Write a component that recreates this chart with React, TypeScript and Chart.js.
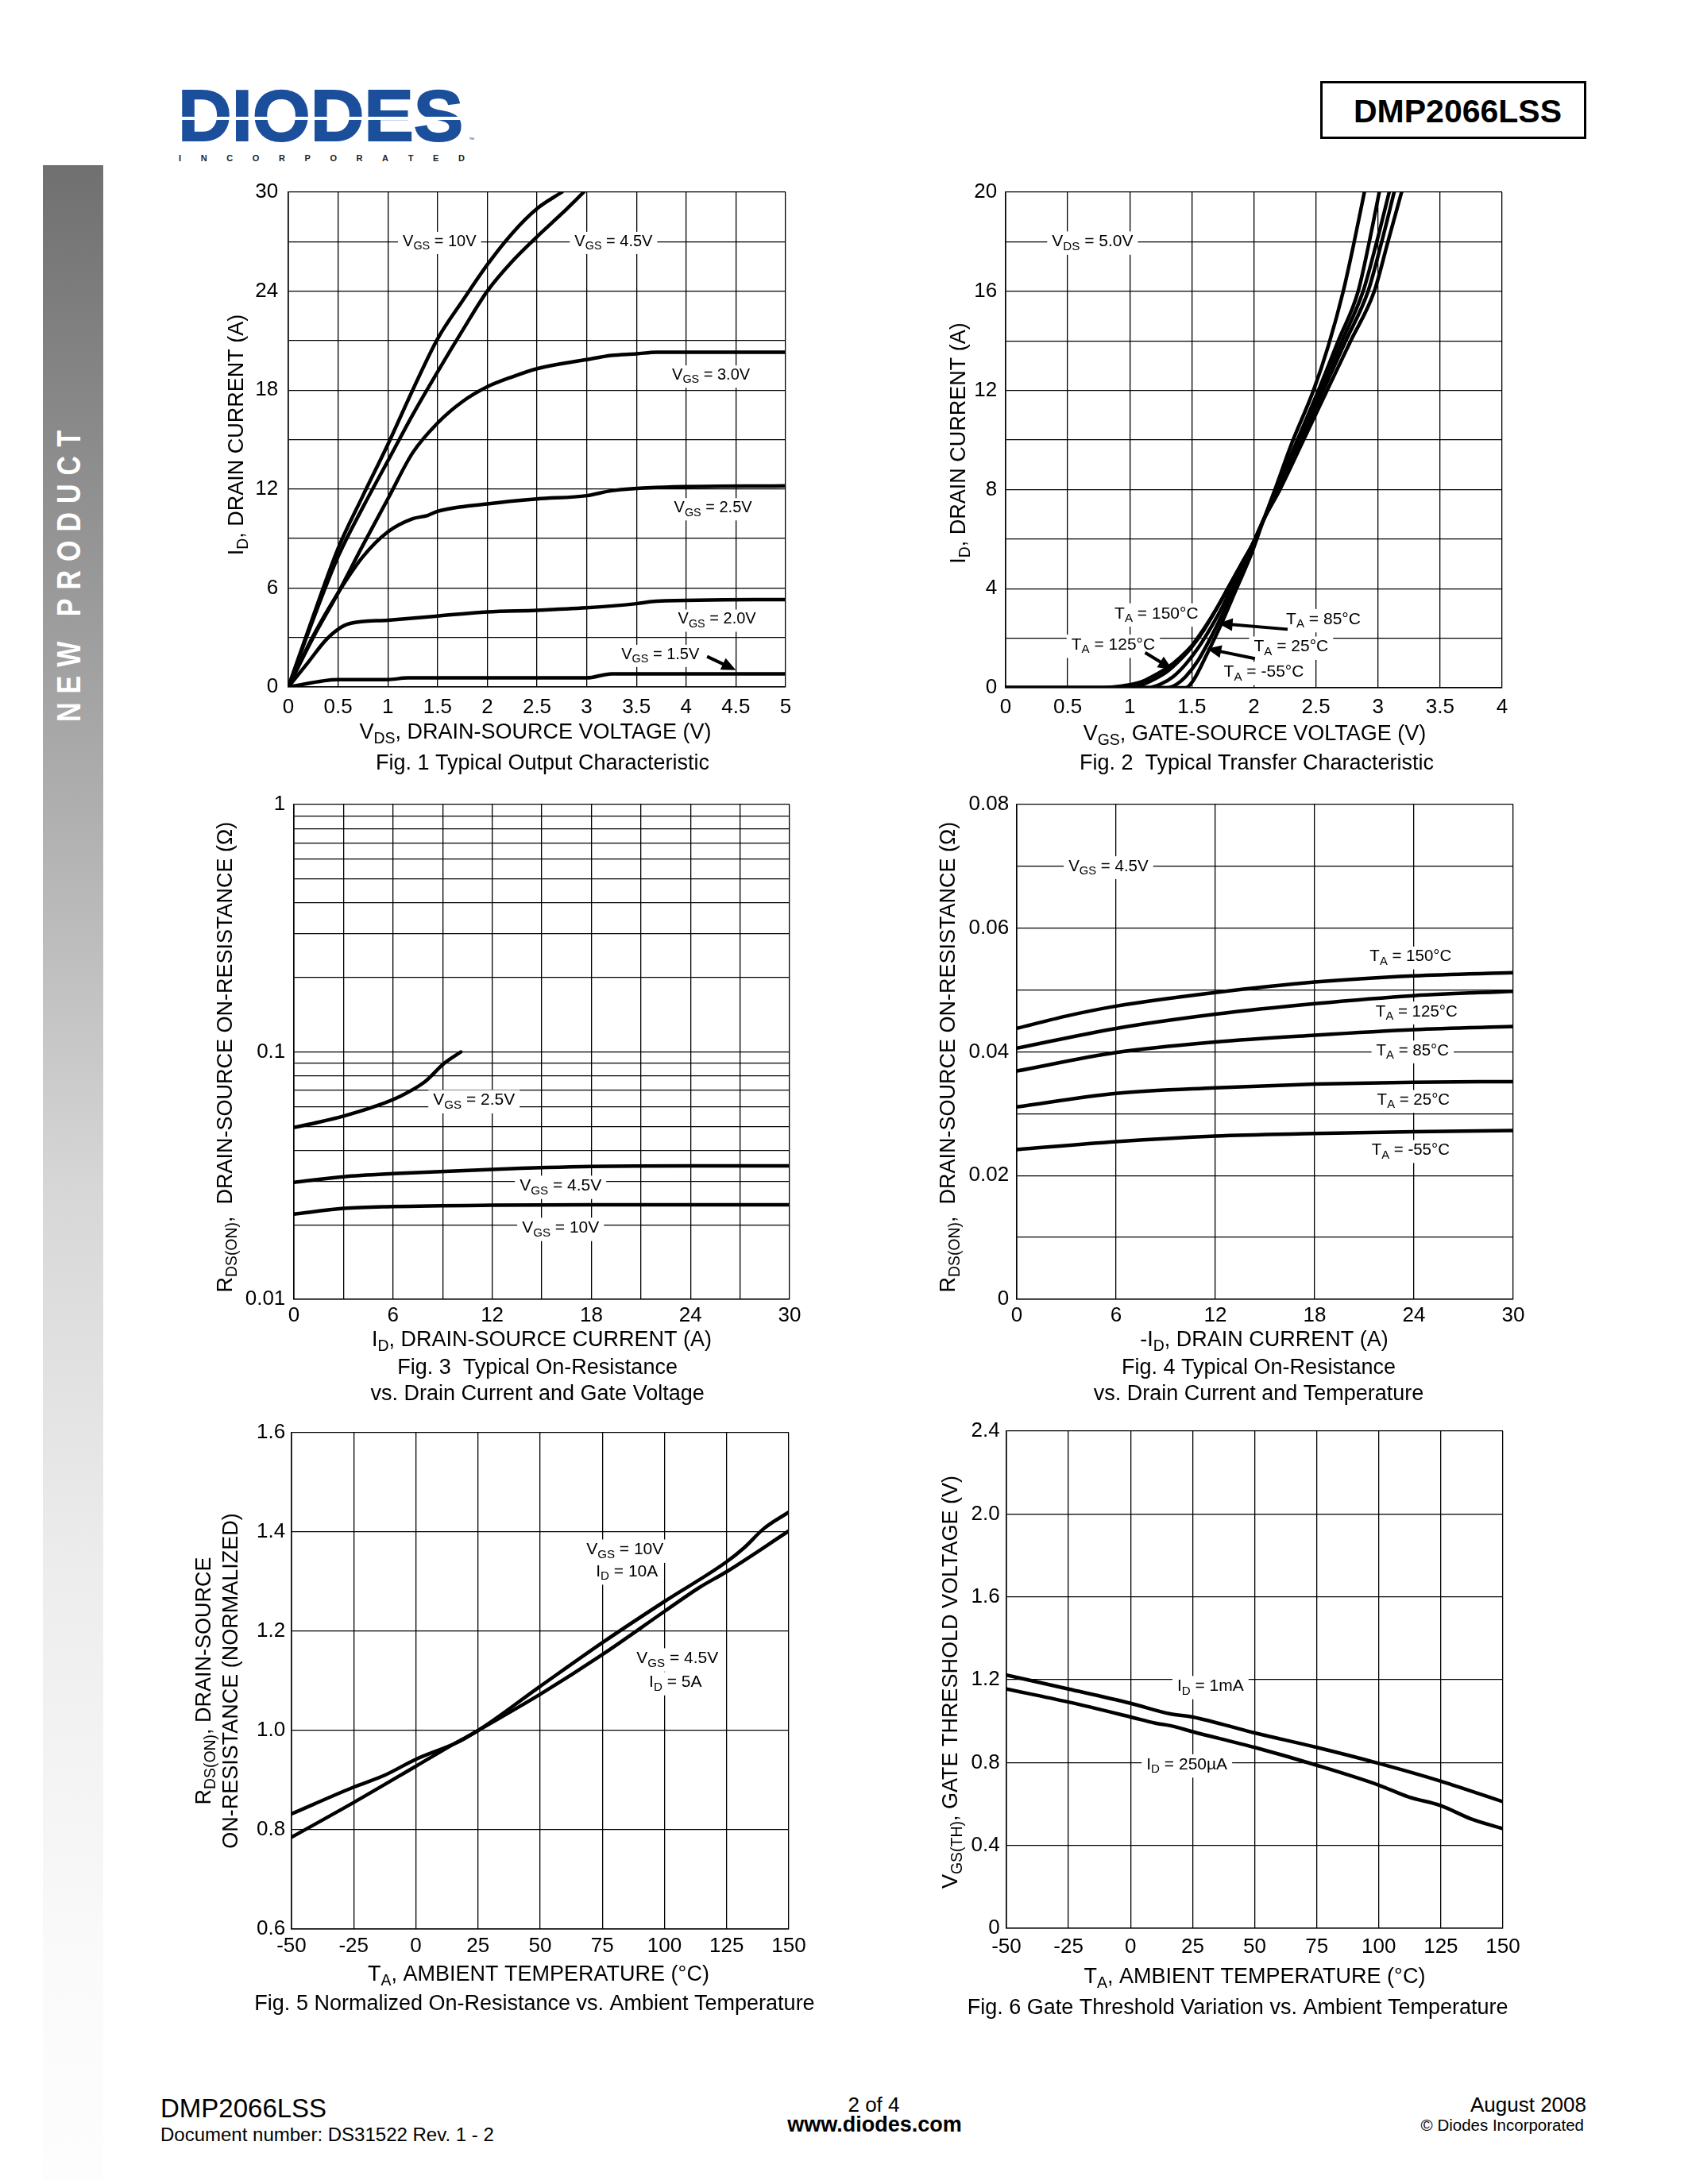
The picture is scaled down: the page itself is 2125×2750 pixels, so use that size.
import React, { useEffect, useRef } from "react";
import { Chart, registerables } from "chart.js";

Chart.register(...registerables);

const FONT = '"Liberation Sans", Arial, Helvetica, sans-serif';
Chart.defaults.font.family = FONT;
Chart.defaults.color = "#000";

type Pt = [number, number];
type Part = [string, number?];

// ================= Fig. 1 Typical Output Characteristic =================
const fig1XTicks = [0, 0.5, 1, 1.5, 2, 2.5, 3, 3.5, 4, 4.5, 5];
const fig1XLabels = ["0", "0.5", "1", "1.5", "2", "2.5", "3", "3.5", "4", "4.5", "5"];
const fig1YTicks = [0, 3, 6, 9, 12, 15, 18, 21, 24, 27, 30];
const fig1YLabels = ["0", "", "6", "", "12", "", "18", "", "24", "", "30"];
const fig1Vgs10: Pt[] = [[0, 0], [0.25, 4.3], [0.5, 8.4], [0.75, 11.6], [1, 14.7], [1.25, 18], [1.5, 21.1], [1.75, 23.4], [2, 25.6], [2.25, 27.5], [2.5, 29], [2.75, 30]];
const fig1Vgs45: Pt[] = [[0, 0], [0.25, 4.1], [0.5, 7.9], [0.75, 10.9], [1, 13.7], [1.25, 16.5], [1.5, 19.1], [1.75, 21.6], [2, 24], [2.25, 25.8], [2.5, 27.3], [2.75, 28.7], [2.97, 30]];
const fig1Vgs30: Pt[] = [[0, 0], [0.25, 3], [0.5, 5.7], [0.75, 8.6], [1, 11.4], [1.25, 14.2], [1.5, 16], [1.75, 17.3], [2, 18.2], [2.25, 18.8], [2.5, 19.3], [3, 19.85], [3.25, 20.1], [3.5, 20.2], [3.7, 20.3], [5, 20.3]];
const fig1Vgs25: Pt[] = [[0, 0], [0.25, 3.1], [0.5, 5.7], [0.75, 7.9], [1, 9.4], [1.25, 10.2], [1.4, 10.4], [1.5, 10.65], [2, 11.1], [2.5, 11.4], [3, 11.6], [3.25, 11.9], [3.7, 12.1], [5, 12.2]];
const fig1Vgs20: Pt[] = [[0, 0], [0.2, 1.5], [0.37, 2.8], [0.5, 3.5], [0.62, 3.85], [1, 4.05], [1.5, 4.3], [2, 4.55], [2.5, 4.65], [3, 4.8], [3.5, 5.05], [3.7, 5.2], [5, 5.3]];
const fig1Vgs15: Pt[] = [[0, 0], [0.5, 0.45], [1, 0.45], [1.2, 0.55], [3, 0.55], [3.25, 0.8], [5, 0.8]];

// ================= Fig. 2 Typical Transfer Characteristic =================
const fig2XTicks = [0, 0.5, 1, 1.5, 2, 2.5, 3, 3.5, 4];
const fig2XLabels = ["0", "0.5", "1", "1.5", "2", "2.5", "3", "3.5", "4"];
const fig2YTicks = [0, 2, 4, 6, 8, 10, 12, 14, 16, 18, 20];
const fig2YLabels = ["0", "", "4", "", "8", "", "12", "", "16", "", "20"];
const fig2Tm55: Pt[] = [[0, 0], [1.45, 0], [1.51, 0.28], [1.62, 1.34], [1.74, 2.6], [1.86, 4.0], [1.98, 5.4], [2.08, 6.8], [2.17, 8], [2.3, 9.8], [2.48, 12], [2.6, 13.8], [2.72, 16], [2.8, 17.8], [2.89, 20]];
const fig2T25: Pt[] = [[0, 0], [1.3, 0], [1.38, 0.15], [1.45, 0.45], [1.55, 1.1], [1.65, 2.0], [1.75, 3.0], [1.86, 4.2], [1.97, 5.5], [2.08, 6.8], [2.18, 8], [2.35, 10], [2.52, 12], [2.68, 14], [2.84, 16], [2.93, 18], [3.01, 20]];
const fig2T85: Pt[] = [[0, 0], [1.15, 0], [1.25, 0.15], [1.35, 0.45], [1.45, 0.95], [1.55, 1.6], [1.65, 2.4], [1.75, 3.3], [1.86, 4.5], [1.97, 5.6], [2.08, 6.8], [2.19, 8], [2.37, 10], [2.54, 12], [2.71, 14], [2.88, 16], [2.99, 18], [3.09, 20]];
const fig2T125: Pt[] = [[0, 0], [1.0, 0], [1.1, 0.12], [1.2, 0.35], [1.3, 0.65], [1.4, 1.1], [1.5, 1.65], [1.6, 2.35], [1.7, 3.2], [1.8, 4.1], [1.9, 5.0], [2.0, 5.9], [2.08, 6.8], [2.2, 8], [2.38, 10], [2.56, 12], [2.74, 14], [2.92, 16], [3.03, 18], [3.13, 20]];
const fig2T150: Pt[] = [[0, 0], [0.75, 0], [0.9, 0.05], [1.0, 0.12], [1.1, 0.25], [1.18, 0.45], [1.3, 0.8], [1.4, 1.2], [1.5, 1.7], [1.6, 2.4], [1.7, 3.2], [1.8, 4.1], [1.9, 5.0], [2.0, 5.9], [2.08, 6.8], [2.21, 8], [2.4, 10], [2.59, 12], [2.78, 14], [2.97, 16], [3.08, 18], [3.19, 20]];

// ================= Fig. 3 On-Resistance vs Drain Current and Gate Voltage =================
const fig3XTicks = [0, 3, 6, 9, 12, 15, 18, 21, 24, 27, 30];
const fig3XLabels = ["0", "", "6", "", "12", "", "18", "", "24", "", "30"];
const fig3YTicks = [0.01, 0.02, 0.03, 0.04, 0.05, 0.06, 0.07, 0.08, 0.09, 0.1, 0.2, 0.3, 0.4, 0.5, 0.6, 0.7, 0.8, 0.9, 1];
const fig3YLabels = ["0.01", "", "", "", "", "", "", "", "", "0.1", "", "", "", "", "", "", "", "", "1"];
const fig3Vgs25: Pt[] = [[0, 0.0495], [1.5, 0.052], [3, 0.055], [5, 0.0605], [6.4, 0.066], [7.9, 0.0755], [9.1, 0.09], [10.1, 0.1]];
const fig3Vgs45: Pt[] = [[0, 0.0297], [3, 0.0313], [6, 0.0322], [12, 0.0335], [18, 0.0344], [24, 0.0346], [30, 0.0346]];
const fig3Vgs10: Pt[] = [[0, 0.0221], [3, 0.0233], [6, 0.0237], [12, 0.024], [18, 0.0241], [30, 0.0241]];

// ================= Fig. 4 On-Resistance vs Drain Current and Temperature =================
const fig4XTicks = [0, 6, 12, 18, 24, 30];
const fig4XLabels = ["0", "6", "12", "18", "24", "30"];
const fig4YTicks = [0, 0.01, 0.02, 0.03, 0.04, 0.05, 0.06, 0.07, 0.08];
const fig4YLabels = ["0", "", "0.02", "", "0.04", "", "0.06", "", "0.08"];
const fig4T150: Pt[] = [[0, 0.0438], [3, 0.0458], [6, 0.0474], [12, 0.0496], [18, 0.0513], [24, 0.0523], [30, 0.0528]];
const fig4T125: Pt[] = [[0, 0.0406], [6, 0.0438], [12, 0.0461], [18, 0.0478], [24, 0.0491], [30, 0.0498]];
const fig4T85: Pt[] = [[0, 0.0369], [6, 0.0399], [12, 0.0416], [18, 0.0427], [24, 0.0436], [30, 0.0441]];
const fig4T25: Pt[] = [[0, 0.0311], [6, 0.0333], [12, 0.0342], [18, 0.0348], [24, 0.0351], [30, 0.0352]];
const fig4Tm55: Pt[] = [[0, 0.0242], [6, 0.0255], [12, 0.0264], [18, 0.0268], [24, 0.0271], [30, 0.0273]];

// ================= Fig. 5 Normalized On-Resistance vs Ambient Temperature =================
const tempTicks = [-50, -25, 0, 25, 50, 75, 100, 125, 150];
const tempLabels = ["-50", "-25", "0", "25", "50", "75", "100", "125", "150"];
const fig5YTicks = [0.6, 0.8, 1.0, 1.2, 1.4, 1.6];
const fig5YLabels = ["0.6", "0.8", "1.0", "1.2", "1.4", "1.6"];
const fig5Vgs10: Pt[] = [[-50, 0.785], [-25, 0.855], [0, 0.928], [16, 0.975], [25, 1.0], [50, 1.089], [75, 1.177], [100, 1.26], [125, 1.34], [132, 1.368], [140, 1.407], [150, 1.44]];
const fig5Vgs45: Pt[] = [[-50, 0.832], [-25, 0.886], [-12.5, 0.91], [0, 0.942], [17.5, 0.978], [25, 1.0], [50, 1.073], [75, 1.153], [100, 1.24], [114, 1.288], [125, 1.32], [150, 1.402]];

// ================= Fig. 6 Gate Threshold Variation vs Ambient Temperature =================
const fig6YTicks = [0, 0.4, 0.8, 1.2, 1.6, 2.0, 2.4];
const fig6YLabels = ["0", "0.4", "0.8", "1.2", "1.6", "2.0", "2.4"];
const fig6Id1mA: Pt[] = [[-50, 1.222], [-25, 1.155], [0, 1.086], [16, 1.035], [25, 1.02], [50, 0.943], [75, 0.873], [100, 0.796], [125, 0.71], [150, 0.611]];
const fig6Id250uA: Pt[] = [[-50, 1.155], [-25, 1.092], [0, 1.02], [10, 0.99], [16, 0.978], [25, 0.949], [50, 0.873], [75, 0.787], [100, 0.691], [112, 0.634], [125, 0.592], [137, 0.529], [150, 0.481]];

// ---------------------------------------------------------------------------
const TICK_SIZE = 26;
const TITLE_SIZE = 27;
const CAP_SIZE = 27;
const PADT = 25;
const PADR = 60;

interface Ann { x: number; y: number; parts: Part[] }
interface Arrow { x1: number; y1: number; x2: number; y2: number }
interface Panel {
  plot: [number, number, number, number];
  yW: number;
  xH: number;
  x: { min: number; max: number; ticks: number[]; labels: string[]; pad: number };
  y: { min: number; max: number; ticks: number[]; labels: string[]; pad: number; log?: boolean };
  series: Pt[][];
  anns: Ann[];
  annSize: number;
  arrows: Arrow[];
  yTitle: { parts: Part[]; dx: number; dy: number }[];
  xTitle: { parts: Part[]; dx: number; dy: number };
  caption: { lines: string[]; dy: number[]; dx: number };
}

function drawRich(ctx: CanvasRenderingContext2D, parts: Part[], x: number, y: number, size: number, bg: boolean) {
  const sub = size * 0.72;
  const widths = parts.map(([t, s]) => {
    ctx.font = `${s ? sub : size}px ${FONT}`;
    return ctx.measureText(t).width;
  });
  const total = widths.reduce((a, b) => a + b, 0);
  let cx = x - total / 2;
  if (bg) {
    ctx.fillStyle = "#fff";
    ctx.fillRect(cx - 6, y - size * 0.62, total + 12, size * 1.4);
  }
  ctx.fillStyle = "#000";
  ctx.textBaseline = "middle";
  ctx.textAlign = "left";
  parts.forEach(([t, s], i) => {
    ctx.font = `${s ? sub : size}px ${FONT}`;
    ctx.fillText(t, cx, s ? y + size * 0.3 : y);
    cx += widths[i];
  });
}

function drawArrow(ctx: CanvasRenderingContext2D, x1: number, y1: number, x2: number, y2: number) {
  const a = Math.atan2(y2 - y1, x2 - x1);
  const hl = 18, hw = 8;
  const c = Math.cos(a), s = Math.sin(a);
  ctx.strokeStyle = "#000";
  ctx.fillStyle = "#000";
  ctx.lineWidth = 4;
  ctx.beginPath();
  ctx.moveTo(x1, y1);
  ctx.lineTo(x2 - hl * 0.7 * c, y2 - hl * 0.7 * s);
  ctx.stroke();
  ctx.beginPath();
  ctx.moveTo(x2, y2);
  ctx.lineTo(x2 - hl * c + hw * s, y2 - hl * s - hw * c);
  ctx.lineTo(x2 - hl * c - hw * s, y2 - hl * s + hw * c);
  ctx.closePath();
  ctx.fill();
}

function ChartPanel({ p }: { p: Panel }) {
  const ref = useRef<HTMLCanvasElement>(null);
  const [L, T, R, B] = p.plot;
  const cw = p.yW + (R - L) + PADR;
  const ch = PADT + (B - T) + p.xH;
  useEffect(() => {
    const decor = {
      id: "decor",
      afterDraw(chart: any) {
        const ctx: CanvasRenderingContext2D = chart.ctx;
        const ca = chart.chartArea;
        const xs = chart.scales.x;
        const ys = chart.scales.y;
        ctx.save();
        p.anns.forEach((a) => drawRich(ctx, a.parts, xs.getPixelForValue(a.x), ys.getPixelForValue(a.y), p.annSize, true));
        p.arrows.forEach((a) =>
          drawArrow(ctx, xs.getPixelForValue(a.x1), ys.getPixelForValue(a.y1), xs.getPixelForValue(a.x2), ys.getPixelForValue(a.y2))
        );
        const cx = (ca.left + ca.right) / 2;
        const cy = (ca.top + ca.bottom) / 2;
        p.yTitle.forEach((t) => {
          ctx.save();
          ctx.translate(ca.left + t.dx, cy + t.dy);
          ctx.rotate(-Math.PI / 2);
          drawRich(ctx, t.parts, 0, 0, TITLE_SIZE, false);
          ctx.restore();
        });
        drawRich(ctx, p.xTitle.parts, cx + p.xTitle.dx, ca.bottom + p.xTitle.dy, TITLE_SIZE, false);
        p.caption.lines.forEach((line, i) => drawRich(ctx, [[line]], cx + p.caption.dx, ca.bottom + p.caption.dy[i], CAP_SIZE, false));
        ctx.restore();
      },
    };
    const axisCommon = (ax: any, horizontal: boolean) => ({
      type: ax.log ? "logarithmic" : "linear",
      min: ax.min,
      max: ax.max,
      afterBuildTicks: (s: any) => {
        s.ticks = ax.ticks.map((v: number) => ({ value: v }));
      },
      afterFit: (s: any) => {
        if (horizontal) s.height = p.xH;
        else s.width = p.yW;
        s.paddingLeft = 0;
        s.paddingRight = 0;
        s.paddingTop = 0;
        s.paddingBottom = 0;
      },
      grid: { color: "#000", lineWidth: 1.3, drawTicks: false },
      border: { color: "#000", width: 1.6 },
      ticks: {
        autoSkip: false,
        maxRotation: 0,
        minRotation: 0,
        padding: ax.pad,
        color: "#000",
        font: { size: TICK_SIZE, family: FONT },
        callback: (_v: any, i: number) => ax.labels[i],
      },
    });
    const chart = new Chart(ref.current as HTMLCanvasElement, {
      type: "line",
      data: {
        datasets: p.series.map((s) => ({
          data: s.map(([x, y]) => ({ x, y })),
          borderColor: "#000",
          borderWidth: 4.5,
          pointRadius: 0,
          fill: false,
          cubicInterpolationMode: "monotone",
          borderCapStyle: "round",
          borderJoinStyle: "round",
        })),
      } as any,
      options: {
        responsive: false,
        maintainAspectRatio: false,
        animation: false,
        events: [],
        layout: { padding: { left: 0, top: PADT, right: PADR, bottom: 0 } },
        plugins: { legend: { display: false }, tooltip: { enabled: false }, title: { display: false } },
        scales: {
          x: axisCommon(p.x, true),
          y: axisCommon(p.y, false),
        },
      } as any,
      plugins: [decor],
    });
    return () => chart.destroy();
  }, []);
  return (
    <canvas
      ref={ref}
      width={cw}
      height={ch}
      style={{ position: "absolute", left: L - p.yW, top: T - PADT, width: cw, height: ch }}
    />
  );
}

const V = (sub: string, rest: string): Part[] => [["V"], [sub, 1], [rest]];
const TA = (rest: string): Part[] => [["T"], ["A", 1], [rest]];

const panels: Panel[] = [
  {
    plot: [363, 242, 989, 865], yW: 120, xH: 125,
    x: { min: 0, max: 5, ticks: fig1XTicks, labels: fig1XLabels, pad: 9.9 },
    y: { min: 0, max: 30, ticks: fig1YTicks, labels: fig1YLabels, pad: 12.8 },
    series: [fig1Vgs10, fig1Vgs45, fig1Vgs30, fig1Vgs25, fig1Vgs20, fig1Vgs15],
    annSize: 20,
    anns: [
      { x: 1.52, y: 27, parts: V("GS", " = 10V") },
      { x: 3.27, y: 27, parts: V("GS", " = 4.5V") },
      { x: 4.25, y: 18.9, parts: V("GS", " = 3.0V") },
      { x: 4.27, y: 10.85, parts: V("GS", " = 2.5V") },
      { x: 4.31, y: 4.1, parts: V("GS", " = 2.0V") },
      { x: 3.74, y: 1.96, parts: V("GS", " = 1.5V") },
    ],
    arrows: [{ x1: 4.21, y1: 1.85, x2: 4.5, y2: 1.02 }],
    yTitle: [{ parts: [["I"], ["D", 1], [", DRAIN CURRENT (A)"]], dx: -64.7, dy: -6 }],
    xTitle: { parts: V("DS", ", DRAIN-SOURCE VOLTAGE (V)"), dx: -2, dy: 57.4 },
    caption: { lines: ["Fig. 1 Typical Output Characteristic"], dy: [96.7], dx: 7 },
  },
  {
    plot: [1266, 242, 1891, 866], yW: 120, xH: 125,
    x: { min: 0, max: 4, ticks: fig2XTicks, labels: fig2XLabels, pad: 9 },
    y: { min: 0, max: 20, ticks: fig2YTicks, labels: fig2YLabels, pad: 10.9 },
    series: [fig2Tm55, fig2T25, fig2T85, fig2T125, fig2T150],
    annSize: 21,
    anns: [
      { x: 0.7, y: 18, parts: V("DS", " = 5.0V") },
      { x: 1.215, y: 2.99, parts: TA(" = 150°C") },
      { x: 0.867, y: 1.73, parts: TA(" = 125°C") },
      { x: 2.56, y: 2.76, parts: TA(" = 85°C") },
      { x: 2.3, y: 1.65, parts: TA(" = 25°C") },
      { x: 2.08, y: 0.63, parts: TA(" = -55°C") },
    ],
    arrows: [
      { x1: 1.124, y1: 1.42, x2: 1.344, y2: 0.74 },
      { x1: 2.272, y1: 2.36, x2: 1.713, y2: 2.6 },
      { x1: 2.009, y1: 1.18, x2: 1.622, y2: 1.575 },
    ],
    yTitle: [{ parts: [["I"], ["D", 1], [", DRAIN CURRENT (A)"]], dx: -58.1, dy: 4 }],
    xTitle: { parts: V("GS", ", GATE-SOURCE VOLTAGE (V)"), dx: 1, dy: 59 },
    caption: { lines: ["Fig. 2  Typical Transfer Characteristic"], dy: [95.8], dx: 3.5 },
  },
  {
    plot: [370, 1013, 994, 1636], yW: 120, xH: 145,
    x: { min: 0, max: 30, ticks: fig3XTicks, labels: fig3XLabels, pad: 5.6 },
    y: { min: 0.01, max: 1, ticks: fig3YTicks, labels: fig3YLabels, pad: 10.7, log: true },
    series: [fig3Vgs25, fig3Vgs45, fig3Vgs10],
    annSize: 21,
    anns: [
      { x: 10.9, y: 0.0637, parts: V("GS", " = 2.5V") },
      { x: 16.14, y: 0.0287, parts: V("GS", " = 4.5V") },
      { x: 16.14, y: 0.0194, parts: V("GS", " = 10V") },
    ],
    arrows: [],
    yTitle: [{ parts: [["R"], ["DS(ON)", 1], [",  DRAIN-SOURCE ON-RESISTANCE (Ω)"]], dx: -85.8, dy: 6.7 }],
    xTitle: { parts: [["I"], ["D", 1], [", DRAIN-SOURCE CURRENT (A)"]], dx: 0, dy: 51.4 },
    caption: { lines: ["Fig. 3  Typical On-Resistance", "vs. Drain Current and Gate Voltage"], dy: [86.7, 119.4], dx: -5.4 },
  },
  {
    plot: [1280, 1013, 1905, 1636], yW: 120, xH: 145,
    x: { min: 0, max: 30, ticks: fig4XTicks, labels: fig4XLabels, pad: 5.6 },
    y: { min: 0, max: 0.08, ticks: fig4YTicks, labels: fig4YLabels, pad: 9.8 },
    series: [fig4T150, fig4T125, fig4T85, fig4T25, fig4Tm55],
    annSize: 20.5,
    anns: [
      { x: 5.54, y: 0.07, parts: V("GS", " = 4.5V") },
      { x: 23.8, y: 0.0554, parts: TA(" = 150°C") },
      { x: 24.16, y: 0.0465, parts: TA(" = 125°C") },
      { x: 23.92, y: 0.0402, parts: TA(" = 85°C") },
      { x: 23.97, y: 0.0322, parts: TA(" = 25°C") },
      { x: 23.8, y: 0.0241, parts: TA(" = -55°C") },
    ],
    arrows: [],
    yTitle: [{ parts: [["R"], ["DS(ON)", 1], [",  DRAIN-SOURCE ON-RESISTANCE (Ω)"]], dx: -85.9, dy: 6.7 }],
    xTitle: { parts: [["-I"], ["D", 1], [", DRAIN CURRENT (A)"]], dx: -1, dy: 51.4 },
    caption: { lines: ["Fig. 4 Typical On-Resistance", "vs. Drain Current and Temperature"], dy: [86.7, 119.4], dx: -8 },
  },
  {
    plot: [367, 1804, 993, 2429], yW: 145, xH: 125,
    x: { min: -50, max: 150, ticks: tempTicks, labels: tempLabels, pad: 6.7 },
    y: { min: 0.6, max: 1.6, ticks: fig5YTicks, labels: fig5YLabels, pad: 7.9 },
    series: [fig5Vgs10, fig5Vgs45],
    annSize: 21,
    anns: [
      { x: 84.1, y: 1.364, parts: V("GS", " = 10V") },
      { x: 84.9, y: 1.32, parts: [["I"], ["D", 1], [" = 10A"]] },
      { x: 105.2, y: 1.145, parts: V("GS", " = 4.5V") },
      { x: 104.4, y: 1.097, parts: [["I"], ["D", 1], [" = 5A"]] },
    ],
    arrows: [],
    yTitle: [
      { parts: [["R"], ["DS(ON)", 1], [", DRAIN-SOURCE"]], dx: -109.6, dy: 0 },
      { parts: [["ON-RESISTANCE (NORMALIZED)"]], dx: -75.1, dy: 0 },
    ],
    xTitle: { parts: TA(", AMBIENT TEMPERATURE (°C)"), dx: -2, dy: 57.2 },
    caption: { lines: ["Fig. 5 Normalized On-Resistance vs. Ambient Temperature"], dy: [94.5], dx: -7 },
  },
  {
    plot: [1267, 1802, 1892, 2428], yW: 120, xH: 125,
    x: { min: -50, max: 150, ticks: tempTicks, labels: tempLabels, pad: 8.2 },
    y: { min: 0, max: 2.4, ticks: fig6YTicks, labels: fig6YLabels, pad: 8.4 },
    series: [fig6Id1mA, fig6Id250uA],
    annSize: 21,
    anns: [
      { x: 32.2, y: 1.168, parts: [["I"], ["D", 1], [" = 1mA"]] },
      { x: 22.7, y: 0.79, parts: [["I"], ["D", 1], [" = 250µA"]] },
    ],
    arrows: [],
    yTitle: [{ parts: V("GS(TH)", ", GATE THRESHOLD VOLTAGE (V)"), dx: -69.8, dy: 3 }],
    xTitle: { parts: TA(", AMBIENT TEMPERATURE (°C)"), dx: 0, dy: 61.1 },
    caption: { lines: ["Fig. 6 Gate Threshold Variation vs. Ambient Temperature"], dy: [100.9], dx: -21.4 },
  },
];

function Txt({ left, right, center, base, size, bold, children, width }: any) {
  const top = base - 0.8465 * size;
  const style: any = {
    position: "absolute",
    top,
    fontFamily: FONT,
    fontSize: size,
    lineHeight: 1,
    fontWeight: bold ? "bold" : "normal",
    color: "#000",
    whiteSpace: "nowrap",
  };
  if (left !== undefined) style.left = left;
  if (right !== undefined) {
    style.left = right - 600;
    style.width = 600;
    style.textAlign = "right";
  }
  if (center !== undefined) {
    const w = width || 600;
    style.left = center - w / 2;
    style.width = w;
    style.textAlign = "center";
  }
  return <div style={style}>{children}</div>;
}

const incLetters = "INCORPORATED".split("");

export default function App() {
  return (
    <div>
      {/* side bar */}
      <div
        style={{
          position: "absolute",
          left: 54,
          top: 208,
          width: 76,
          height: 2537,
          background:
            "linear-gradient(to bottom, #707070 0%, #afafaf 32%, #d7d7d7 51%, #ededed 70%, #fafafa 89%, #fdfdfd 100%)",
        }}
      />
      <div
        style={{
          position: "absolute",
          left: 86,
          top: 720,
          transform: "translate(-50%, -50%) rotate(-90deg) scaleY(1.25)",
          color: "#fff",
          fontFamily: FONT,
          fontWeight: "bold",
          fontSize: 34,
          letterSpacing: 11,
          lineHeight: 1,
          whiteSpace: "nowrap",
        }}
      >
        NEW PRODUCT
      </div>

      {/* logo */}
      <div
        style={{
          position: "absolute",
          left: 224,
          top: 177 - 0.8465 * 91,
          fontFamily: FONT,
          fontWeight: "bold",
          fontSize: 91,
          lineHeight: 1,
          color: "#1b4f9c",
          WebkitTextStroke: "2px #1b4f9c",
          transform: "scaleX(1.03)",
          transformOrigin: "left top",
          whiteSpace: "nowrap",
        }}
      >
        DIODES
      </div>
      <div style={{ position: "absolute", left: 218, top: 147, width: 380, height: 4, background: "#fff" }} />
      <div style={{ position: "absolute", left: 590, top: 172, fontFamily: FONT, fontSize: 7, color: "#1b4f9c" }}>™</div>
      <div
        style={{
          position: "absolute",
          left: 225,
          top: 203 - 0.8465 * 11,
          width: 360,
          display: "flex",
          justifyContent: "space-between",
          fontFamily: FONT,
          fontWeight: "bold",
          fontSize: 11,
          lineHeight: 1,
          color: "#222",
        }}
      >
        {incLetters.map((c, i) => (
          <span key={i}>{c}</span>
        ))}
      </div>

      {/* part number box */}
      <div
        style={{
          position: "absolute",
          left: 1662,
          top: 102,
          width: 335,
          height: 73,
          border: "3px solid #000",
          boxSizing: "border-box",
        }}
      />
      <Txt center={1835} base={155} size={41} bold width={335}>
        DMP2066LSS
      </Txt>

      {panels.map((p, i) => (
        <ChartPanel key={i} p={p} />
      ))}

      {/* footer */}
      <Txt left={202} base={2666} size={33}>DMP2066LSS</Txt>
      <Txt left={202} base={2696} size={24}>Document number: DS31522 Rev. 1 - 2</Txt>
      <Txt center={1100} base={2659} size={26}>2 of 4</Txt>
      <Txt center={1101} base={2685} size={27} bold>www.diodes.com</Txt>
      <Txt right={1997} base={2659} size={26}>August 2008</Txt>
      <Txt right={1994} base={2683} size={20.5}>© Diodes Incorporated</Txt>
    </div>
  );
}
